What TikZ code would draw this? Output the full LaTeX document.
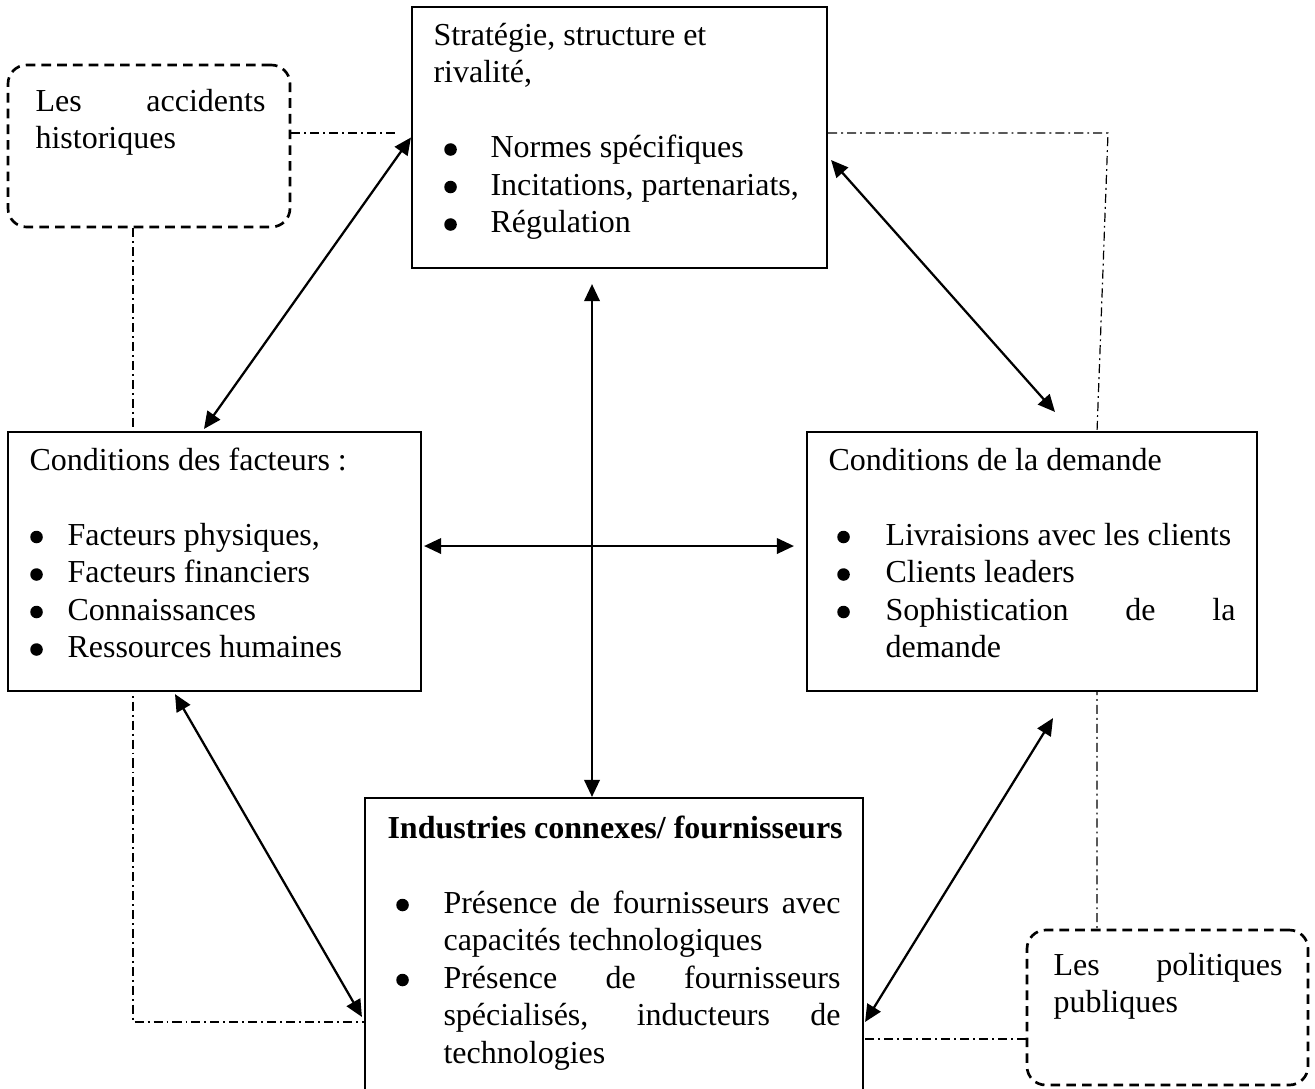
\documentclass[tikz,border=0pt]{standalone}
\usepackage{fontspec}
\setmainfont{Liberation Serif}
\usetikzlibrary{arrows.meta}
\newlength\pxu
\setlength\pxu{0.375pt}
\newcommand\bdot{\makebox[0pt]{\tikz[baseline={(0pt,-3pt)}]\fill (0pt,0pt) circle (2.35pt);}}
\newcommand\bul[3]{\hspace*{#1\pxu}\bdot\hspace*{#2\pxu}#3}
\begin{document}
\begin{tikzpicture}[x=0.375pt,y=-0.375pt,
  sbox/.style={draw, line width=0.8pt, fill=white, inner sep=0pt, rectangle},
  rbox/.style={draw, line width=1pt, dash pattern=on 3.6pt off 2.3pt, rounded corners=7pt, fill=white, inner sep=0pt, rectangle},
  ddash/.style={line width=0.45pt, dash pattern=on 3.4pt off 1.5pt on 0.7pt off 1.5pt},
  arr/.style={line width=0.85pt, {Triangle[length=6.4pt,width=5.8pt]}-{Triangle[length=6.4pt,width=5.8pt]}},
  txt/.style={anchor=base west, inner sep=0pt, font=\fontsize{12}{14.0625}\selectfont}]
\clip (0,0) rectangle (1315,1088);
\fill[white] (0,0) rectangle (1315,1088);

% boxes (geometry only, for anchors)
\path node[sbox, minimum width=415*\pxu, minimum height=261*\pxu, draw=none, fill=none] (top) at (619.5,137.5) {}
      node[rbox, minimum width=282*\pxu, minimum height=162*\pxu, draw=none, fill=none] (acc) at (149,146) {}
      node[sbox, minimum width=413*\pxu, minimum height=259*\pxu, draw=none, fill=none] (cond) at (214.5,561.5) {}
      node[sbox, minimum width=450*\pxu, minimum height=259*\pxu, draw=none, fill=none] (dem) at (1032,561.5) {}
      node[sbox, minimum width=498*\pxu, minimum height=312*\pxu, draw=none, fill=none] (ind) at (614,954) {}
      node[rbox, minimum width=281*\pxu, minimum height=155*\pxu, draw=none, fill=none] (pol) at (1167.5,1007.5) {};

% dash-dot connectors
\coordinate (dl) at (399,133);
\coordinate (c1) at (1108,133);
\coordinate (c2) at (1097,432);
\draw[ddash] ([shift={(0,-13)}]acc.east) -- (dl);
\draw[ddash] ([shift={(-16,0)}]acc.south) |- ([shift={(0,225)}]ind.north west);
\draw[ddash] ([shift={(0,-4.5)}]top.east) -- (c1) -- (c2) -- ([shift={(-70.5,0)}]pol.north);
\draw[ddash] ([shift={(0,31.5)}]pol.west) -- ([shift={(0,31.5)}]pol.west -| ind.east);

% visible boxes
\node[sbox, minimum width=415*\pxu, minimum height=261*\pxu] (topb) at (top) {};
\node[rbox, minimum width=282*\pxu, minimum height=162*\pxu] (accb) at (acc) {};
\node[sbox, minimum width=413*\pxu, minimum height=259*\pxu] (condb) at (cond) {};
\node[sbox, minimum width=450*\pxu, minimum height=259*\pxu] (demb) at (dem) {};
\node[sbox, minimum width=498*\pxu, minimum height=312*\pxu] (indb) at (ind) {};
\node[rbox, minimum width=281*\pxu, minimum height=155*\pxu] (polb) at (pol) {};

% arrows
\draw[arr] (top.west) -- ([shift={(-10.5,-2)}]cond.north);
\draw[arr] ([shift={(3,22.5)}]top.east) -- ([shift={(23,-19)}]dem.north);
\draw[arr] ([shift={(-27.5,15)}]top.south) -- ([shift={(-22,0)}]ind.north);
\draw[arr] ([shift={(2,-15.5)}]cond.east) -- ([shift={(-12,-15.5)}]dem.west);
\draw[arr] ([shift={(-39.5,2)}]cond.south) -- ([shift={(-2,220)}]ind.north west);
\draw[arr] ([shift={(21,26)}]dem.south) -- ([shift={(1,225)}]ind.north east);

% texts
\node[txt] (toptxt) at (433,45) {\parbox[t]{500\pxu}{%
Stratégie, structure et\\
rivalité,\\
\mbox{}\\
\bul{17}{40}{Normes spécifiques}\\
\bul{17}{40}{Incitations, partenariats,}\\
\bul{17}{40}{Régulation}}};

\node[txt] (acctxt) at (35,111) {\parbox[t]{300\pxu}{%
\makebox[230\pxu][s]{Les accidents}\\
historiques}};

\node[txt] (condtxt) at (29,470) {\parbox[t]{500\pxu}{%
Conditions des facteurs :\\
\mbox{}\\
\bul{7}{31}{Facteurs physiques,}\\
\bul{7}{31}{Facteurs financiers}\\
\bul{7}{31}{Connaissances}\\
\bul{7}{31}{Ressources humaines}}};

\node[txt] (demtxt) at (828,470) {\parbox[t]{500\pxu}{%
Conditions de la demande\\
\mbox{}\\
\bul{15}{42}{Livraisions avec les clients}\\
\bul{15}{42}{Clients leaders}\\
\bul{15}{42}{\makebox[350\pxu][s]{Sophistication de la}}\\
\hspace*{57\pxu}demande}};

\node[txt] (indtxt) at (387,838) {\parbox[t]{600\pxu}{%
\textbf{Industries connexes/ fournisseurs}\\
\mbox{}\\
\bul{15}{41}{\makebox[397\pxu][s]{Présence de fournisseurs avec}}\\
\hspace*{56\pxu}capacités technologiques\\
\bul{15}{41}{\makebox[397\pxu][s]{Présence de fournisseurs}}\\
\hspace*{56\pxu}\makebox[397\pxu][s]{spécialisés, inducteurs de}\\
\hspace*{56\pxu}technologies}};

\node[txt] (poltxt) at (1053,975) {\parbox[t]{300\pxu}{%
\makebox[229\pxu][s]{Les politiques}\\
publiques}};
\end{tikzpicture}
\end{document}
